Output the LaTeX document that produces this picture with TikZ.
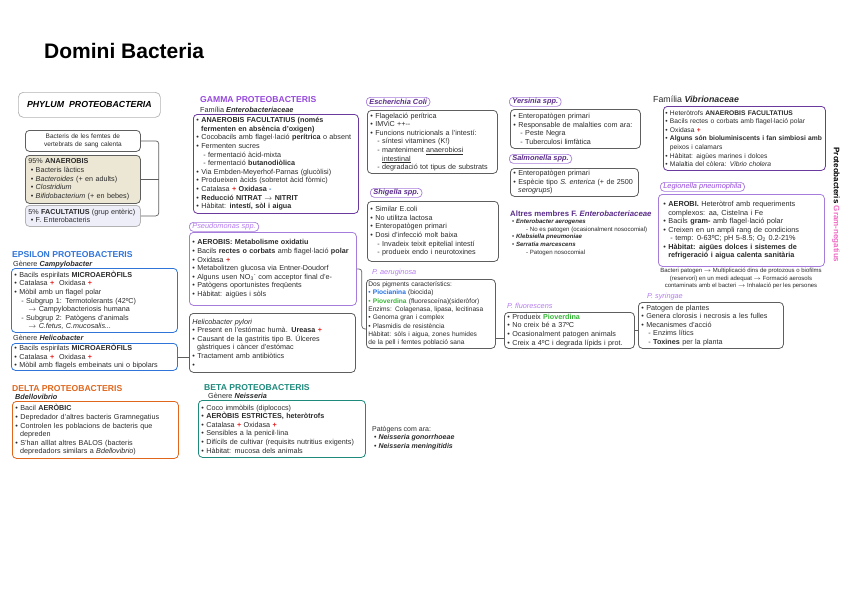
\documentclass[tikz,border=0pt]{standalone}
\usepackage{fontspec}
\setmainfont{Liberation Sans}
\usetikzlibrary{calc}
\definecolor{epsc}{HTML}{2F74D9}
\definecolor{deltac}{HTML}{E0661C}
\definecolor{betac}{HTML}{1E8A7C}
\definecolor{gammac}{HTML}{9548DC}
\definecolor{darkpurp}{HTML}{6B3A9E}
\definecolor{midpurp}{HTML}{A67CDA}
\definecolor{lightpurp}{HTML}{B57BEF}
\definecolor{tagtxt}{HTML}{5A2D8A}
\definecolor{plusred}{HTML}{E52222}
\definecolor{greybox}{HTML}{5E5E5E}
\definecolor{beige}{HTML}{ECE7D4}
\definecolor{lav}{HTML}{EEEEF9}
\definecolor{gpink}{HTML}{F06CC4}
\definecolor{pioblue}{HTML}{1F6FE6}
\definecolor{piogreen}{HTML}{35B535}
\definecolor{txt}{HTML}{2A2A2A}
\newcommand\fs{\fontsize{7.2}{8.6}\selectfont}
\newcommand\rp{\textcolor{plusred}{\textbf{+}}}
\newcommand\bmn{\textcolor{epsc}{\textbf{-}}}
\newcommand\ii{\hspace*{7pt}}
\newcommand\iii{\hspace*{14pt}}
\newcommand\ar{\ensuremath{\rightarrow}}
\begin{document}
\begin{tikzpicture}[x=1pt,y=-1pt,
  box/.style={draw=#1, rounded corners=4pt, line width=0.8pt, anchor=north west, align=left, inner xsep=3pt, inner ysep=0.5pt, font=\fs, text=txt},
  tag/.style={draw=midpurp, rounded corners=4pt, line width=0.7pt, anchor=north west, inner xsep=3pt, inner ysep=0.6pt, minimum height=9pt, font=\fontsize{7.4}{7.6}\selectfont\bfseries\itshape, text=tagtxt},
  plab/.style={anchor=base west, inner sep=0pt, font=\fontsize{7.3}{8}\selectfont\itshape, text=lightpurp},
  grouptitle/.style={anchor=base west, inner sep=0pt, font=\fontsize{8.6}{9}\selectfont\bfseries},
  sub/.style={anchor=base west, inner sep=0pt, font=\fontsize{7.3}{8}\selectfont, text=txt},
  conn/.style={draw=greybox, line width=0.7pt, rounded corners=3pt}
]
\useasboundingbox (0,0) rectangle (848,600);

% title
\node[anchor=base west, inner sep=0pt, font=\fontsize{21}{21}\selectfont\bfseries] (title) at (44,58) {Domini Bacteria};

% phylum
\node[draw=gray!60, rounded corners=5pt, line width=0.7pt, anchor=north west, minimum width=142pt, minimum height=25pt, font=\fontsize{8.8}{9}\selectfont\bfseries\itshape] (phylum) at (18,92) {PHYLUM\ \ PROTEOBACTERIA};

\node[box=greybox, text width=109pt, minimum height=21pt, align=center, font=\fontsize{6.5}{7.6}\selectfont] (femtes) at (25,130) {Bacteris de les femtes de\\vertebrats de sang calenta};
\node[box=greybox, fill=beige, text width=109pt, minimum height=48pt] (anaer) at (25,155) {95\% \textbf{ANAEROBIS}\\
\ \textbullet{} Bacteris làctics\\
\ \textbullet{} \textit{Bacteroides} (+ en adults)\\
\ \textbullet{} \textit{Clostridium}\\
\ \textbullet{} \textit{Bifidobacterium} (+ en bebes)};
\node[box=gray!60, fill=lav, text width=109pt, minimum height=21pt] (facult) at (25,205) {5\% \textbf{FACULTATIUS} (grup entèric)\\
\ \textbullet{} F. Enterobacteris};
\draw[conn] (femtes.east) -- ++(18,0) |- (facult.east);
\draw[conn] (anaer.east) -- ++(18,0);

% EPSILON
\node[grouptitle, text=epsc] (epst) at (12,257) {EPSILON PROTEOBACTERIS};
\node[sub] (campyt) at (13,266) {Gènere \textbf{\textit{Campylobacter}}};
\node[box=epsc, text width=160pt, minimum height=64pt] (campy) at (11,268) {\textbullet{} Bacils espirilats \textbf{MICROAERÒFILS}\\
\textbullet{} Catalasa \rp\ \ Oxidasa \rp\\
\textbullet{} Mòbil amb un flagel polar\\
\ii- Subgrup 1: Termotolerants (42ºC)\\
\iii\ar\ Campylobacteriosis humana\\
\ii- Subgrup 2: Patògens d'animals\\
\iii\ar\ \textit{C.fetus, C.mucosalis...}};
\node[sub] (helicot) at (13,340) {Gènere \textbf{\textit{Helicobacter}}};
\node[box=epsc, text width=160pt, minimum height=27pt] (helico) at (11,343) {\textbullet{} Bacils espirilats \textbf{MICROAERÒFILS}\\
\textbullet{} Catalasa \rp\ \ Oxidasa \rp\\
\textbullet{} Mòbil amb flagels embeinats uni o bipolars};

% DELTA
\node[grouptitle, text=deltac] (deltat) at (12,391) {DELTA PROTEOBACTERIS};
\node[sub, font=\fontsize{7.3}{8}\selectfont\bfseries\itshape] (bdellot) at (15,399) {Bdellovibrio};
\node[box=deltac, text width=160pt, minimum height=57pt] (bdello) at (12,401) {\textbullet{} Bacil \textbf{AERÒBIC}\\
\textbullet{} Depredador d'altres bacteris Gramnegatius\\
\textbullet{} Controlen les poblacions de bacteris que\\
\ \ depreden\\
\textbullet{} S'han aïllat altres BALOS (bacteris\\
\ \ depredadors similars a \textit{Bdellovibrio})};

% GAMMA
\node[grouptitle, text=gammac] (gammat) at (200,102) {GAMMA PROTEOBACTERIS};
\node[sub] (entt) at (200,112) {Família \textbf{\textit{Enterobacteriaceae}}};
\node[box=darkpurp, text width=159pt, minimum height=99pt] (ent) at (193,114) {\textbullet{} \textbf{ANAEROBIS FACULTATIUS (només}\\
\ \ \textbf{fermenten en absència d'oxigen)}\\
\textbullet{} Cocobacils amb flagel·lació \textbf{perítrica} o absent\\
\textbullet{} Fermenten sucres\\
\ii- fermentació àcid-mixta\\
\ii- fermentació \textbf{butanodiòlica}\\
\textbullet{} Via Embden-Meyerhof-Parnas (glucòlisi)\\
\textbullet{} Produeixen àcids (sobretot àcid fòrmic)\\
\textbullet{} Catalasa \rp\ \textbf{Oxidasa} \bmn\\
\textbullet{} \textbf{Reducció NITRAT \ar\ NITRIT}\\
\textbullet{} Hàbitat: \textbf{intestí, sòl i aigua}};

% Pseudomonas
\node[tag, font=\fontsize{7.4}{7.6}\selectfont\itshape, text=lightpurp] (pseudot) at (189,222) {Pseudomonas spp.};
\node[box=midpurp, text width=161pt, minimum height=73pt] (pseudo) at (189,232) {\textbullet{} \textbf{AEROBIS: Metabolisme oxidatiu}\\
\textbullet{} Bacils \textbf{rectes o corbats} amb flagel·lació \textbf{polar}\\
\textbullet{} Oxidasa \rp\\
\textbullet{} Metabolitzen glucosa via Entner-Doudorf\\
\textbullet{} Alguns usen NO\textsubscript{3}\textsuperscript{-} com acceptor final d'e-\\
\textbullet{} Patògens oportunistes freqüents\\
\textbullet{} Hàbitat: aigües i sòls};

% H. pylori
\node[box=greybox, text width=160pt, minimum height=59pt] (hpylori) at (189,313) {\textit{Helicobacter pylori}\\
\textbullet{} Present en l'estómac humà. \textbf{Ureasa} \rp\\
\textbullet{} Causant de la gastritis tipo B. Úlceres\\
\ \ gàstriques i càncer d'estómac\\
\textbullet{} Tractament amb antibiòtics\\
\textbullet{}};
\draw[conn] (helico.east) -- (helico.east -| hpylori.west);

% BETA
\node[grouptitle, text=betac] (betat) at (204,390) {BETA PROTEOBACTERIS};
\node[sub] (neisst) at (208,398) {Gènere \textbf{\textit{Neisseria}}};
\node[box=betac, text width=161pt, minimum height=57pt] (neiss) at (198,400) {\textbullet{} Coco immòbils (diplococs)\\
\textbullet{} \textbf{AERÒBIS ESTRICTES, heteròtrofs}\\
\textbullet{} Catalasa \rp\ Oxidasa \rp\\
\textbullet{} Sensibles a la penicil·lina\\
\textbullet{} Difícils de cultivar (requisits nutritius exigents)\\
\textbullet{} Hàbitat: mucosa dels animals};
\node[anchor=north west, align=left, font=\fontsize{7}{8.5}\selectfont, text=txt, inner sep=0pt] (patog) at (372,426) {Patògens com ara:\\
\ \textbullet{} \textbf{\textit{Neisseria gonorrhoeae}}\\
\ \textbullet{} \textbf{\textit{Neisseria meningitidis}}};

% E. coli
\node[tag] (ecolit) at (366,97) {Escherichia Coli};
\node[box=greybox, text width=124pt, minimum height=63pt] (ecoli) at (367,110) {\textbullet{} Flagelació perítrica\\
\textbullet{} IMViC ++-{}-\\
\textbullet{} Funcions nutricionals a l'intestí:\\
\ii- síntesi vitamines (K!)\\
\ii- manteniment \underline{anaerobiosi}\\
\ii\ \ \underline{intestinal}\\
\ii- degradació tot tipus de substrats};

% Shigella
\node[tag] (shigt) at (370,188) {Shigella spp.};
\node[box=greybox, text width=125pt, minimum height=60pt] (shig) at (367,201) {\textbullet{} Similar E.coli\\
\textbullet{} No utilitza lactosa\\
\textbullet{} Enteropatògen primari\\
\textbullet{} Dosi d'infecció molt baixa\\
\ii- Invadeix teixit epitelial intestí\\
\ii- produeix endo i neurotoxines};

% P. aeruginosa
\node[plab] (aerugt) at (372,274) {P. aeruginosa};
\node[box=greybox, text width=125pt, inner xsep=2pt, minimum height=69pt, font=\fontsize{6.6}{8.3}\selectfont] (aerug) at (366,279) {Dos pigments característics:\\
\textcolor{pioblue}{\textbullet{} \textbf{Piocianina}} (biocida)\\
\textcolor{piogreen}{\textbullet{} \textbf{Pioverdina}} (fluoresceína)(sideròfor)\\
Enzims: Colagenasa, lipasa, lecitinasa\\
\textbullet{} Genoma gran i complex\\
\textbullet{} Plasmidis de resistència\\
Hàbitat: sòls i aigua, zones humides\\
de la pell i femtes població sana};
\draw[conn] (pseudo.east) -- ++(5,0) |- ([yshift=-15pt]aerug.west);

% Yersinia
\node[tag] (yerst) at (509,97) {Yersinia spp.};
\node[box=greybox, text width=124pt, minimum height=39pt] (yers) at (510,109) {\textbullet{} Enteropatògen primari\\
\textbullet{} Responsable de malalties com ara:\\
\ii- Peste Negra\\
\ii- Tuberculosi limfàtica};

% Salmonella
\node[tag] (salmt) at (509,154) {Salmonella spp.};
\node[box=greybox, text width=122pt, minimum height=28pt] (salm) at (510,168) {\textbullet{} Enteropatògen primari\\
\textbullet{} Espècie tipo \textit{S. enterica} (+ de 2500\\
\ \ \textit{serogrups})};

% Altres membres
\node[anchor=base west, inner sep=0pt, font=\fontsize{7.8}{8}\selectfont\bfseries, text=tagtxt] (altrest) at (510,216) {Altres membres F. \textit{Enterobacteriaceae}};
\node[anchor=north west, align=left, inner sep=0pt, font=\fontsize{6.1}{7.6}\selectfont, text=txt] (altres) at (512,219) {\textbullet{} \textbf{\textit{Enterobacter aerogenes}}\\
\iii- No es patogen (ocasionalment nosocomial)\\
\textbullet{} \textbf{\textit{Klebsiella pneumoniae}}\\
\textbullet{} \textbf{\textit{Serratia marcescens}}\\
\iii- Patogen nosocomial};

% P. fluorescens
\node[plab] (fluort) at (507,308) {P. fluorescens};
\node[box=greybox, text width=124pt, minimum height=36pt] (fluor) at (504,312) {\textbullet{} Produeix \textcolor{piogreen}{\textbf{Pioverdina}}\\
\textbullet{} No creix bé a 37ºC\\
\textbullet{} Ocasionalment patogen animals\\
\textbullet{} Creix a 4ºC i degrada lípids i prot.};
\draw[conn] ([yshift=-24pt]aerug.east) -- ([yshift=-24pt]aerug.east -| fluor.west);

% P. syringae
\node[plab] (syrt) at (647,298) {P. syringae};
\node[box=greybox, text width=139pt, minimum height=46pt] (syr) at (638,302) {\textbullet{} Patogen de plantes\\
\textbullet{} Genera clorosis i necrosis a les fulles\\
\textbullet{} Mecanismes d'acció\\
\ii- Enzims lítics\\
\ii- \textbf{Toxines} per la planta};
\draw[conn] (fluor.east) -- (fluor.east -| syr.west);

% Vibrionaceae
\node[anchor=base west, inner sep=0pt, font=\fontsize{8.8}{9}\selectfont, text=txt] (vibt) at (653,102) {Família \textbf{\textit{Vibrionaceae}}};
\node[box=darkpurp, text width=158pt, inner xsep=2pt, minimum height=64pt, font=\fontsize{6.7}{8.6}\selectfont] (vib) at (663,106) {\textbullet{} Heteròtrofs \textbf{ANAEROBIS FACULTATIUS}\\
\textbullet{} Bacils rectes o corbats amb flagel·lació polar\\
\textbullet{} Oxidasa \rp\\
\textbullet{} \textbf{Alguns són bioluminiscents i fan simbiosi amb}\\
\ \ peixos i calamars\\
\textbullet{} Hàbitat: aigües marines i dolces\\
\textbullet{} Malaltia del còlera: \textit{Vibrio cholera}};

% Legionella
\node[tag, font=\fontsize{7.4}{7.6}\selectfont\itshape, text=gammac] (legt) at (660,182) {Legionella pneumophila};
\node[box=midpurp, text width=156pt, minimum height=72pt, font=\fontsize{7.3}{8.5}\selectfont, inner xsep=5pt] (leg) at (658,194) {\textbullet{} \textbf{AEROBI.} Heteròtrof amb requeriments\\
\ \ complexos: aa, Cisteïna i Fe\\
\textbullet{} Bacils \textbf{gram-} amb flagel·lació polar\\
\textbullet{} Creixen en un ampli rang de condicions\\
\ii- temp: 0-63ºC; pH 5-8.5; O\textsubscript{2} 0.2-21\%\\
\textbullet{} \textbf{Hàbitat: aigües dolces i sistemes de}\\
\ \ \textbf{refrigeració i aigua calenta sanitària}};
\node[anchor=north, align=center, inner sep=0pt, font=\fontsize{6}{7.6}\selectfont, text=txt] (legnote) at (741,268) {Bacteri patogen \ar\ Multiplicació dins de protozous o biofilms\\
(reservori) en un medi adequat \ar\ Formació aerosols\\
contaminats amb el bacteri \ar\ Inhalació per les persones};

% vertical label
\node[rotate=-90, font=\fontsize{8}{9}\selectfont\bfseries] (vert) at (836,205) {Proteobacteris \textcolor{gpink}{Gram-negatius}};
\end{tikzpicture}
\end{document}
